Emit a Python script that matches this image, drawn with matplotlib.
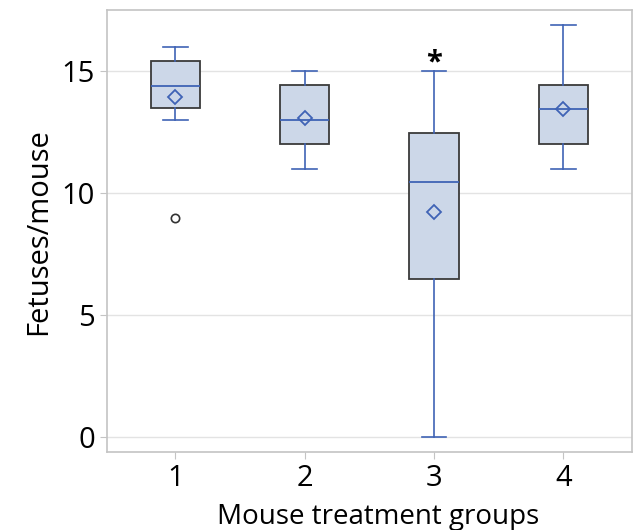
import matplotlib.pyplot as plt

plt.rcParams['font.family'] = ['Open Sans', 'DejaVu Sans']

groups = [1, 2, 3, 4]
whisker_low = [13, 11, 0, 11]
q1 = [13.5, 12, 6.5, 12]
medians = [14.4, 13, 10.45, 13.45]
q3 = [15.4, 14.45, 12.45, 14.45]
whisker_high = [16, 15, 15, 16.9]
means = [13.95, 13.1, 9.25, 13.45]
outliers = [[9], [], [], []]

blue = '#3f63b5'
stats = []
for i in range(len(groups)):
    stats.append({
        'whislo': whisker_low[i], 'q1': q1[i], 'med': medians[i], 'q3': q3[i],
        'whishi': whisker_high[i], 'mean': means[i], 'fliers': outliers[i],
        'label': str(groups[i]),
    })

fig = plt.figure(figsize=(6.33, 5.30), dpi=100)
ax = fig.add_axes([0.169, 0.147, 0.829, 0.834])

ax.bxp(stats, positions=groups, widths=0.38, showmeans=True, patch_artist=True,
       boxprops=dict(facecolor='#ccd7e8', edgecolor='#3a3a3a', linewidth=1.3),
       whiskerprops=dict(color=blue, linewidth=1.2),
       capprops=dict(color=blue, linewidth=1.2),
       capwidths=0.19,
       medianprops=dict(color=blue, linewidth=1.3),
       meanprops=dict(marker='D', markerfacecolor='none', markeredgecolor=blue,
                      markersize=7, markeredgewidth=1.3),
       flierprops=dict(marker='o', markerfacecolor='none', markeredgecolor='#333333',
                       markersize=6, markeredgewidth=1.2))

# significance mark above group 3
ax.text(3, 14.75, '*', ha='center', va='bottom', fontsize=21, fontweight='bold')

ax.set_xlim(0.47, 4.53)
ax.set_ylim(-0.6, 17.5)
ax.set_yticks([0, 5, 10, 15])
ax.set_xticks(groups)
ax.set_xticklabels([str(g) for g in groups])
ax.yaxis.grid(True, color='#e3e3e3', linewidth=1)
ax.set_axisbelow(True)
for s in ax.spines.values():
    s.set_color('#c4c4c4')
    s.set_linewidth(1.2)
ax.tick_params(colors='#c4c4c4', labelcolor='black', labelsize=21, length=5)
ax.set_xlabel('Mouse treatment groups', fontsize=20)
ax.xaxis.set_label_coords(0.516, -0.115)
ax.set_ylabel('Fetuses/mouse', fontsize=21, labelpad=6)

fig.savefig('out.png')
